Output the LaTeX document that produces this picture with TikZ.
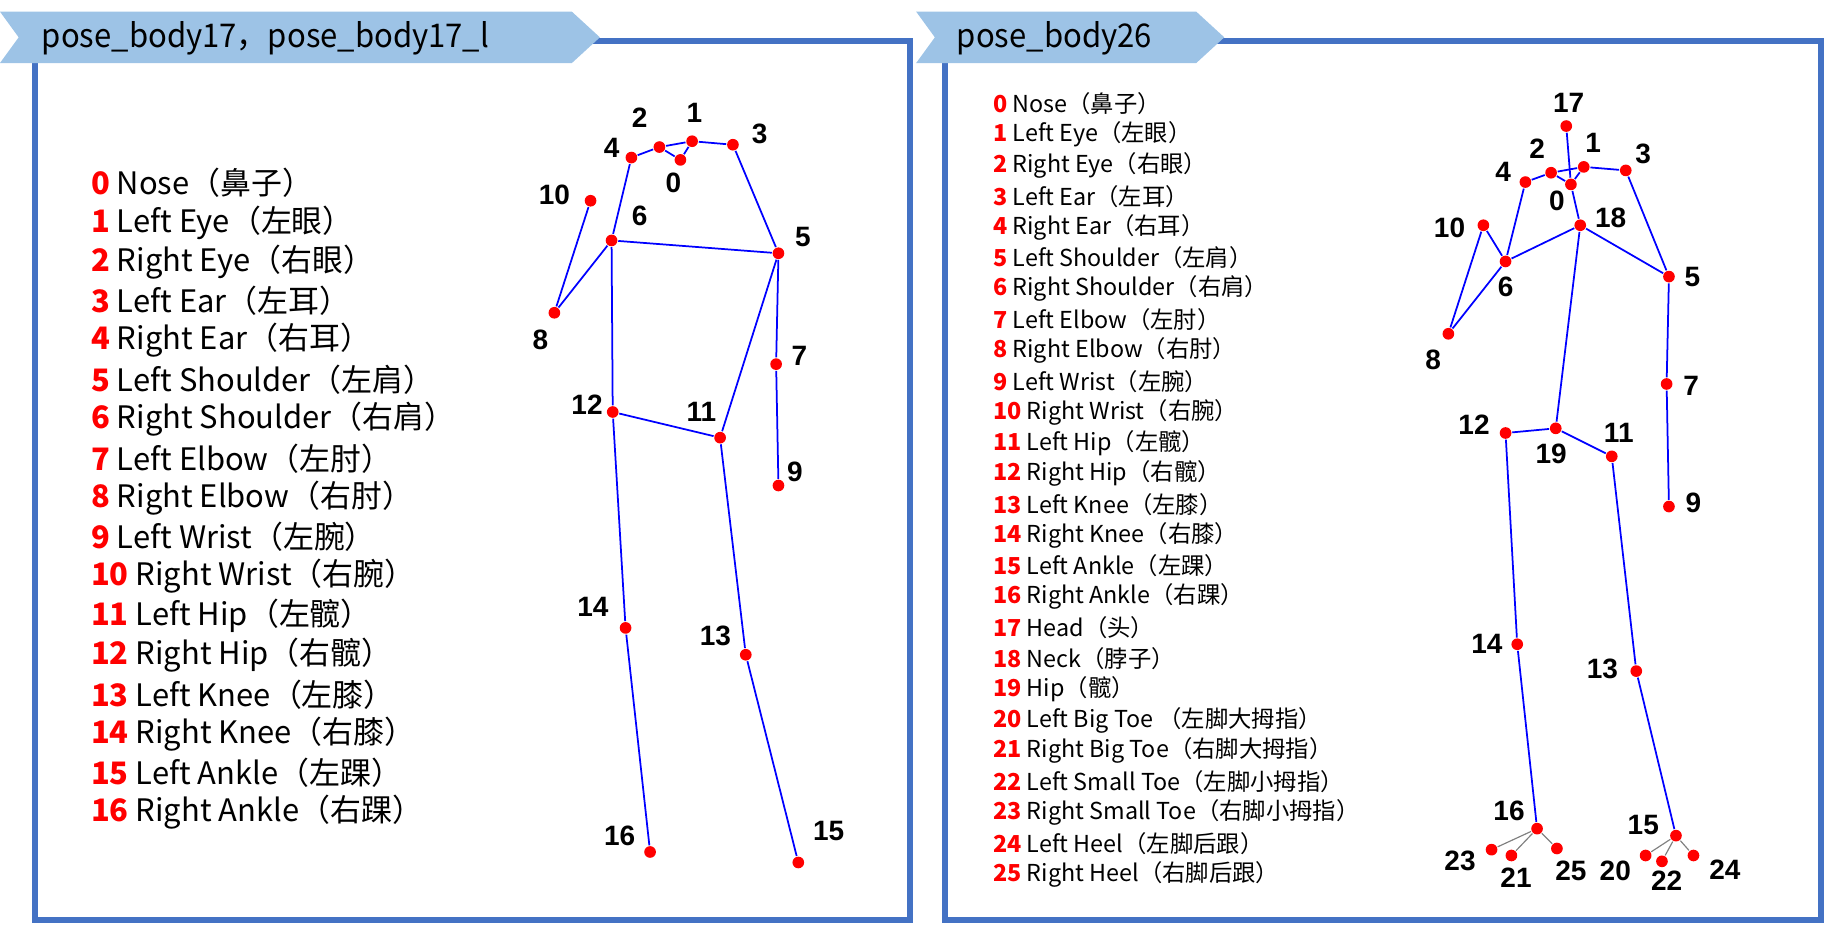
\documentclass[tikz,border=0pt]{standalone}
\usepackage{fontspec}
\setmainfont{Noto Sans CJK SC}
\newfontfamily\lblfont{Liberation Sans}
\definecolor{frameblue}{RGB}{68,114,196}
\definecolor{tabblue}{RGB}{157,195,230}
\begin{document}
\begin{tikzpicture}[x=1pt,y=-1pt,line width=1.5pt,
  joint/.style={circle,fill=red,inner sep=0pt,minimum size=10pt},
  num/.style={font=\lblfont\bfseries\fontsize{24}{26}\selectfont},
  bone/.style={blue,line width=1.5pt},
  toe/.style={gray,line width=1pt}]
\useasboundingbox (0,0) rectangle (1568,793);
% frames and tabs
\draw[frameblue,line width=5pt] (30,35) rectangle (780,788);
\draw[frameblue,line width=5pt] (810,35) rectangle (1560,788);
\fill[tabblue] (0,10)--(490,10)--(514,32)--(490,54)--(0,54)--(16,32)--cycle;
\fill[tabblue] (785,10)--(1025,10)--(1049,32)--(1025,54)--(785,54)--(801,32)--cycle;
\node[anchor=west,font=\fontsize{28}{30}\selectfont,xscale=0.95] (tabA) at (32,33) {pose\_body17，pose\_body17\_l};
\node[anchor=west,font=\fontsize{28}{30}\selectfont,xscale=0.95] (tabB) at (816,33) {pose\_body26};
% left list
\foreach \n/\t [count=\i from 0] in {0/Nose（鼻子）,1/Left Eye（左眼）,2/Right Eye（右眼）,3/Left Ear（左耳）,
  4/Right Ear（右耳）,5/Left Shoulder（左肩）,6/Right Shoulder（右肩）,7/Left Elbow（左肘）,
  8/Right Elbow（右肘）,9/Left Wrist（左腕）,10/Right Wrist（右腕）,11/Left Hip（左髋）,
  12/Right Hip（右髋）,13/Left Knee（左膝）,14/Right Knee（右膝）,15/Left Ankle（左踝）,16/Right Ankle（右踝）}
  \node[anchor=west,font=\fontsize{26.5}{28}\selectfont] (la\n) at (74,157+33.7*\i) {\textcolor{red}{\textbf{\n}} \t};
% right list
\foreach \n/\t [count=\i from 0] in {0/Nose（鼻子）,1/Left Eye（左眼）,2/Right Eye（右眼）,3/Left Ear（左耳）,
  4/Right Ear（右耳）,5/Left Shoulder（左肩）,6/Right Shoulder（右肩）,7/Left Elbow（左肘）,
  8/Right Elbow（右肘）,9/Left Wrist（左腕）,10/Right Wrist（右腕）,11/Left Hip（左髋）,
  12/Right Hip（右髋）,13/Left Knee（左膝）,14/Right Knee（右膝）,15/Left Ankle（左踝）,
  16/Right Ankle（右踝）,17/Head（头）,18/Neck（脖子）,19/Hip（髋）,20/Left Big Toe （左脚大拇指）,
  21/Right Big Toe（右脚大拇指）,22/Left Small Toe（左脚小拇指）,23/Right Small Toe（右脚小拇指）,
  24/Left Heel（左脚后跟）,25/Right Heel（右脚后跟）}
  \node[anchor=west,font=\fontsize{20}{22}\selectfont] (lb\n) at (847,89+26.4*\i) {\textcolor{red}{\textbf{\n}} \t};
% skeleton 17
\foreach \n/\x/\y/\lx/\ly in {0/583/137/577/157,1/593/121/595/97,2/565/126/548/101,3/628/124/651/115,
  4/541/135/524/127,5/667/217/688/203,6/524/206/548/185,7/665/312/685/305,8/475/268/463/291,
  9/667/416/681/404,10/506/172/475/167,11/617/375/601/353,12/525/353/503/347,13/639/561/613/545,
  14/536/538/508/520,15/684/739/710/712,16/557/730/531/716}{
  \node[joint] (a\n) at (\x,\y) {};
  \node[num] (an\n) at (\lx,\ly) {\n};
}
\foreach \u/\v in {4/2,2/1,1/3,2/0,0/1,4/6,3/5,6/5,6/12,12/11,11/5,5/7,7/9,6/8,8/10,12/14,14/16,11/13,13/15}
  \draw[bone] (a\u)--(a\v);
% skeleton 26
\foreach \n/\x/\y/\lx/\ly in {0/1346/158/1334/172,1/1357/143/1365/122,2/1329/148/1317/127,3/1393/146/1408/132,
  4/1307/156/1288/147,5/1430/237/1450/237,6/1290/224/1290/246,7/1428/329/1449/331,8/1241/286/1228/308,
  9/1430/434/1451/431,10/1271/193/1242/195,11/1381/391/1387/371,12/1290/371/1263/364,13/1402/575/1373/573,
  14/1300/552/1274/552,15/1436/716/1408/707,16/1317/710/1293/695,17/1342/108/1344/88,18/1354/193/1380/187,
  19/1333/367/1329/389,20/1410/733/1384/746,21/1295/733/1299/752,22/1424/738/1428/755,23/1278/728/1251/738,
  24/1451/733/1478/745,25/1334/727/1346/746}{
  \node[joint] (b\n) at (\x,\y) {};
  \node[num] (bn\n) at (\lx,\ly) {\n};
}
\foreach \u/\v in {17/0,4/2,2/1,1/3,2/0,0/1,0/18,4/6,3/5,18/6,18/5,18/19,6/10,6/8,8/10,5/7,7/9,
  19/12,19/11,12/14,14/16,11/13,13/15}
  \draw[bone] (b\u)--(b\v);
\foreach \u/\v in {16/23,16/21,16/25,15/20,15/22,15/24}
  \draw[toe] (b\u)--(b\v);
\end{tikzpicture}
\end{document}
